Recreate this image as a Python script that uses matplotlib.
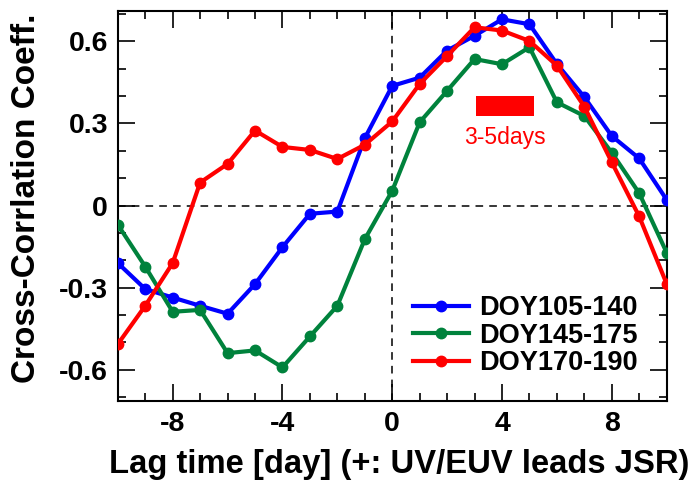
import matplotlib.pyplot as plt
from matplotlib.ticker import MultipleLocator

plt.rcParams['font.family'] = ['Liberation Sans', 'DejaVu Sans']

lag = [-10, -9, -8, -7, -6, -5, -4, -3, -2, -1, 0, 1, 2, 3, 4, 5, 6, 7, 8, 9, 10]

doy105_140 = [-0.21, -0.305, -0.336, -0.366, -0.395, -0.287, -0.152, -0.030, -0.022, 0.246,
              0.437, 0.467, 0.566, 0.620, 0.680, 0.662, 0.517, 0.396, 0.254, 0.172, 0.021]
doy145_175 = [-0.070, -0.223, -0.388, -0.381, -0.539, -0.529, -0.591, -0.478, -0.366, -0.123,
              0.054, 0.304, 0.419, 0.535, 0.516, 0.578, 0.377, 0.327, 0.193, 0.045, -0.172]
doy170_190 = [-0.506, -0.366, -0.210, 0.084, 0.152, 0.274, 0.214, 0.203, 0.170, 0.222,
              0.307, 0.444, 0.546, 0.651, 0.639, 0.601, 0.511, 0.361, 0.158, -0.040, -0.286]

series = [
    ('DOY105-140', doy105_140, '#0000ff'),
    ('DOY145-175', doy145_175, '#00823c'),
    ('DOY170-190', doy170_190, '#ff0000'),
]

# lead time window marked on the plot
window = (3.05, 5.15)

fig = plt.figure(figsize=(6.93, 4.80), dpi=100)
ax = fig.add_axes([0.170, 0.165, 0.792, 0.813])

ax.axhline(0, color='black', lw=1.1, ls=(0, (5, 4)), zorder=1)
ax.axvline(0, color='black', lw=1.1, ls=(0, (5, 4)), zorder=1)

for name, vals, col in series:
    ax.plot(lag, vals, '-o', color=col, lw=3.0, ms=7.5, label=name, zorder=3)

ax.fill_between(window, 0.328, 0.401, color='#ff0000', lw=0, zorder=2)
ax.text(sum(window) / 2, 0.25, '3-5days', color='#ff0000', fontsize=16.5,
        ha='center', va='center')

ax.set_xlim(-10, 10)
ax.set_ylim(-0.713, 0.712)
ax.xaxis.set_minor_locator(MultipleLocator(1))
ax.yaxis.set_minor_locator(MultipleLocator(0.1))
ax.set_xticks([-8, -4, 0, 4, 8])
ax.set_xticklabels(['-8', '-4', '0', '4', '8'])
ax.set_yticks([-0.6, -0.3, 0, 0.3, 0.6])
ax.set_yticklabels(['-0.6', '-0.3', '0', '0.3', '0.6'])

ax.tick_params(which='both', direction='in', top=True, right=True, width=1.2)
ax.tick_params(which='major', length=12, labelsize=20.5, pad=7)
ax.tick_params(which='minor', length=6)
for lab in ax.get_xticklabels() + ax.get_yticklabels():
    lab.set_fontweight('bold')
for sp in ax.spines.values():
    sp.set_linewidth(1.5)

ax.set_xlabel('Lag time [day] (+: UV/EUV leads JSR)', fontsize=23.6, fontweight='bold')
ax.set_ylabel('Cross-Corrlation Coeff.', fontsize=24, fontweight='bold')
ax.xaxis.set_label_coords(0.512, -0.123)
ax.yaxis.set_label_coords(-0.138, 0.52)

ax.legend(loc='center left', bbox_to_anchor=(0.537, 0.1665), frameon=False,
          prop={'size': 19.5, 'weight': 'bold'}, handlelength=2.1,
          handletextpad=0.35, labelspacing=0.05, borderaxespad=0, borderpad=0)

fig.savefig('out.png', dpi=100)
